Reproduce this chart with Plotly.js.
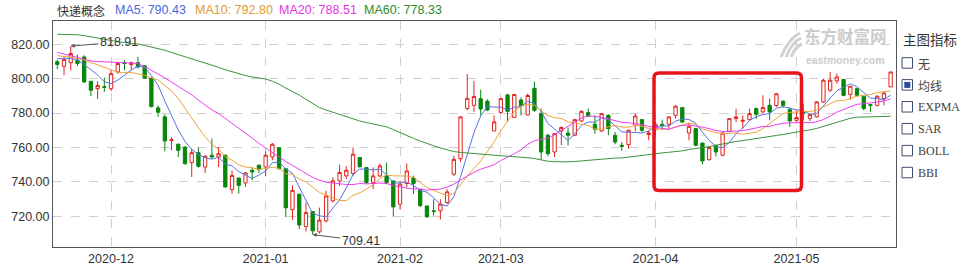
<!DOCTYPE html>
<html><head><meta charset="utf-8">
<script src="https://cdn.plot.ly/plotly-3.0.1.min.js"></script>
<style>html,body{margin:0;padding:0;background:#fff}#chart{width:961px;height:268px}</style>
</head><body><div id="chart"></div>
<script>
// ---------------- data ----------------
const chartTitle = '快递概念';
const maLabels = ['MA5: 790.43', 'MA10: 792.80', 'MA20: 788.51', 'MA60: 778.33'];

const dates = [
'2020-11-19','2020-11-20','2020-11-23','2020-11-24','2020-11-25','2020-11-26','2020-11-27','2020-11-30',
'2020-12-01','2020-12-02','2020-12-03','2020-12-04','2020-12-07','2020-12-08','2020-12-09','2020-12-10','2020-12-11','2020-12-14','2020-12-15','2020-12-16','2020-12-17','2020-12-18','2020-12-21','2020-12-22','2020-12-23','2020-12-24','2020-12-25','2020-12-28','2020-12-29','2020-12-30','2020-12-31',
'2021-01-04','2021-01-05','2021-01-06','2021-01-07','2021-01-08','2021-01-11','2021-01-12','2021-01-13','2021-01-14','2021-01-15','2021-01-18','2021-01-19','2021-01-20','2021-01-21','2021-01-22','2021-01-25','2021-01-26','2021-01-27','2021-01-28','2021-01-29',
'2021-02-01','2021-02-02','2021-02-03','2021-02-04','2021-02-05','2021-02-08','2021-02-09','2021-02-10','2021-02-18','2021-02-19','2021-02-22','2021-02-23','2021-02-24','2021-02-25','2021-02-26',
'2021-03-01','2021-03-02','2021-03-03','2021-03-04','2021-03-05','2021-03-08','2021-03-09','2021-03-10','2021-03-11','2021-03-12','2021-03-15','2021-03-16','2021-03-17','2021-03-18','2021-03-19','2021-03-22','2021-03-23','2021-03-24','2021-03-25','2021-03-26','2021-03-29','2021-03-30','2021-03-31',
'2021-04-01','2021-04-02','2021-04-06','2021-04-07','2021-04-08','2021-04-09','2021-04-12','2021-04-13','2021-04-14','2021-04-15','2021-04-16','2021-04-19','2021-04-20','2021-04-21','2021-04-22','2021-04-23','2021-04-26','2021-04-27','2021-04-28','2021-04-29','2021-04-30',
'2021-05-06','2021-05-07','2021-05-10','2021-05-11','2021-05-12','2021-05-13','2021-05-14','2021-05-17','2021-05-18','2021-05-19','2021-05-20','2021-05-21','2021-05-24','2021-05-25','2021-05-26'
];

const open = [
809.8,807.2,809.3,810.7,812.6,798.5,794.2,795.3,
794.2,803.9,809.2,808.2,809.3,807.5,800.3,783.0,777.8,764.0,761.9,760.3,751.2,757.0,748.7,755.5,754.5,755.5,735.5,742.3,739.4,746.7,749.7,
748.7,754.5,759.9,747.7,723.9,732.9,714.1,722.8,711.0,717.4,729.0,740.6,743.5,744.9,754.2,748.4,739.7,743.5,743.5,740.6,
727.1,739.1,742.3,735.5,726.0,723.2,723.2,728.0,744.5,753.5,782.7,784.5,788.4,786.9,769.6,
780.3,790.5,777.5,787.6,778.9,794.4,779.7,767.1,757.4,769.6,768.4,767.1,775.4,780.3,773.5,769.6,778.7,767.1,761.3,761.7,772.9,776.2,767.5,
770.4,773.5,773.5,778.7,783.2,768.4,771.0,762.6,752.9,761.3,755.5,769.4,776.8,775.2,776.2,782.6,780.7,784.5,784.4,786.9,782.0,
775.8,780.7,776.8,777.8,786.5,793.3,798.7,799.5,790.9,794.2,789.8,784.9,784.5,788.4,795.2
];
const high = [
811.0,813.0,818.91,814.0,813.6,798.5,798.5,800.6,
804.9,809.2,810.7,810.0,812.6,808.0,800.8,784.5,779.3,766.0,762.2,760.5,759.3,760.0,755.5,765.2,760.3,756.0,746.7,742.4,745.8,748.7,750.2,
757.8,762.6,760.0,747.7,738.0,732.9,728.0,722.8,725.1,734.8,742.6,750.0,749.2,760.0,754.2,748.4,748.4,750.7,751.3,740.6,
740.6,750.7,743.6,735.8,726.1,730.0,730.0,735.8,755.2,778.1,802.7,798.7,793.6,788.0,778.7,
789.0,791.3,790.9,789.0,791.5,798.3,782.6,768.0,768.4,772.3,771.6,776.6,781.6,782.6,778.7,780.1,779.3,769.0,763.2,770.4,779.7,776.2,770.0,
774.8,776.2,777.8,784.5,783.2,774.3,771.0,762.6,760.7,761.3,769.0,776.8,782.6,778.7,782.6,783.2,790.3,788.4,791.7,787.4,783.2,
781.6,785.5,779.7,787.0,800.0,803.9,803.0,799.5,795.6,794.2,789.8,785.1,790.4,792.3,803.9
];
const low = [
805.5,802.0,804.9,807.4,797.5,789.8,788.2,792.3,
792.7,803.0,804.9,804.9,805.9,800.0,783.3,777.8,757.8,758.4,754.5,750.2,742.9,748.3,745.2,753.5,748.7,736.7,733.2,733.2,737.1,741.0,745.2,
743.3,752.6,747.1,719.6,718.0,712.5,711.2,709.41,710.0,716.4,728.0,737.7,741.6,743.5,748.4,738.7,735.8,742.9,738.7,719.7,
724.1,736.8,733.0,725.5,719.3,720.3,718.2,727.1,743.5,751.6,781.6,780.7,778.7,781.2,769.6,
779.7,774.8,777.4,778.7,778.7,780.7,752.9,754.9,754.5,761.3,761.3,766.5,774.8,777.7,768.0,769.0,767.1,761.9,758.0,759.3,769.4,769.0,764.2,
767.1,770.0,771.0,776.8,774.2,764.2,760.7,750.2,752.5,754.9,754.9,769.0,774.8,771.0,775.8,776.6,780.1,775.8,783.6,783.2,772.0,
774.8,775.8,775.4,777.4,785.9,792.3,797.1,789.7,787.8,789.7,781.6,780.7,783.9,784.5,795.2
];
const close = [
808.3,811.1,814.6,808.8,798.1,793.3,796.0,795.0,
802.9,808.8,808.8,809.3,806.8,800.3,783.8,780.5,763.8,764.5,758.4,750.6,757.0,749.1,754.9,754.5,756.4,737.1,743.8,738.0,745.2,745.8,747.3,
755.5,761.9,747.7,725.0,735.1,715.0,722.2,711.6,717.8,731.9,740.6,745.5,746.8,756.1,748.8,739.7,743.5,749.3,739.7,725.5,
738.7,746.4,739.1,726.2,719.7,722.8,727.1,734.2,753.1,777.8,788.6,789.6,782.4,781.8,774.9,
788.4,781.0,790.8,784.2,790.2,781.6,757.4,756.4,768.1,771.6,767.1,776.2,781.0,778.3,770.6,779.7,771.0,763.2,760.7,770.0,778.3,770.0,768.5,
773.5,772.7,777.8,784.0,774.8,772.3,761.3,752.2,760.0,757.4,768.4,776.8,777.8,775.8,779.7,779.3,783.2,780.7,791.2,784.5,775.4,
777.4,779.7,779.1,786.5,799.1,799.1,801.0,790.3,795.6,790.3,782.6,784.5,789.8,791.7,803.9
];

// moving-average values for the first days (before enough closes exist in view)
const ma5Head  = [811.8,811.5,811.8,810.8];
const ma10Head = [813.4,813.0,812.5,811.8,810.8,809.5,808.0,806.5,805.2];
const ma20Head = [815.3,814.3,813.2,812.0,811.0,810.3,810.0,809.8,809.6,809.4,809.2,809.0,808.8,807.0,805.0,802.8,800.5,798.0,795.5];
const ma60Head = [825.8,825.8,825.7,825.5,825.0,824.3,823.2,822.5,822.0,821.5,821.0,820.7,820.1,819.3,818.5,817.5,816.5,815.2,814.0,812.8,
811.7,810.6,809.3,808.0,806.6,805.2,804.0,802.8,801.8,801.0,800.4,799.8,798.5,796.8,794.5,792.6,790.5,788.0,785.5,783.2,
781.8,780.5,779.2,777.8,776.5,775.4,774.5,773.6,772.8,772.0,770.4,768.6,767.0,765.3,763.8,762.3,761.0,759.8,758.6];

const monthTicks  = ['2020-12-01','2021-01-04','2021-02-01','2021-03-01','2021-04-01','2021-05-06'];
const monthLabels = ['2020-12','2021-01','2021-02','2021-03','2021-04','2021-05'];
const yTicks = [720, 740, 760, 780, 800, 820];

const panelTitle = '主图指标';
const indicators = ['无','均线','EXPMA','SAR','BOLL','BBI'];
const checkedIndicator = '均线';
const watermark = ['东方财富网', 'eastmoney.com'];

// ---------------- styles ----------------
const UP = '#e2231a', DOWN = '#08860a';
const maColors = ['#5574e4', '#eda43a', '#f03cf0', '#3a953a'];
const maTextColors = ['#4a68dc', '#e29a2e', '#e632e6', '#2e8a2e'];

function movingAverage(n, head) {
  return close.map((c, i) => {
    if (i < n - 1) return head[i];
    let s = 0;
    for (let k = i - n + 1; k <= i; k++) s += close[k];
    return s / n;
  });
}
const maSeries = [movingAverage(5, ma5Head), movingAverage(10, ma10Head), movingAverage(20, ma20Head), movingAverage(60, ma60Head)];

// ---------------- geometry helpers ----------------
const W = 961, H = 268, ML = 53, MR = 65, MT = 21, MB = 21;
const PW = W - ML - MR, PH = H - MT - MB;
const px = x => (x - ML) / PW;
const py = y => 1 - (y - MT) / PH;

const traces = [{
  type: 'candlestick', x: dates, open: open, high: high, low: low, close: close,
  increasing: {line: {color: UP, width: 1}, fillcolor: '#ffffff'},
  decreasing: {line: {color: DOWN, width: 1}, fillcolor: DOWN},
  whiskerwidth: 0, hoverinfo: 'skip', showlegend: false
}];
maSeries.forEach((s, k) => traces.push({
  type: 'scatter', mode: 'lines', x: dates, y: s,
  line: {color: maColors[k], width: 1}, hoverinfo: 'skip', showlegend: false
}));

// extremes
let hi = 0, lo = 0;
high.forEach((v, i) => { if (v > high[hi]) hi = i; });
low.forEach((v, i) => { if (v < low[lo]) lo = i; });

const FONT = 'Liberation Sans, Arial, sans-serif';
const CJK = 'Noto Sans CJK SC, sans-serif';
const annotations = [];
const shapes = [];

// header
annotations.push({xref: 'paper', yref: 'paper', x: px(55), y: py(10), xanchor: 'left', yanchor: 'middle',
  text: chartTitle, showarrow: false, font: {family: CJK, size: 12, color: '#333'}});
const maX = [113, 193, 277, 361.5];
maLabels.forEach((t, k) => annotations.push({xref: 'paper', yref: 'paper', x: px(maX[k]), y: py(10),
  xanchor: 'left', yanchor: 'middle', text: t, showarrow: false, font: {family: FONT, size: 12.5, color: maTextColors[k]}}));

// extreme labels
annotations.push({x: dates[hi], y: high[hi], text: high[hi].toFixed(2), showarrow: true, ax: 48, ay: -4,
  arrowhead: 2, arrowsize: 0.8, arrowwidth: 1, arrowcolor: '#555', standoff: 0,
  font: {family: FONT, size: 12.5, color: '#333'}});
annotations.push({x: dates[lo], y: low[lo], text: low[lo].toFixed(2), showarrow: true, ax: 48, ay: 6,
  arrowhead: 2, arrowsize: 0.8, arrowwidth: 1, arrowcolor: '#555', standoff: 0,
  font: {family: FONT, size: 12.5, color: '#333'}});

// watermark (one text block, two lines)
annotations.push({xref: 'paper', yref: 'paper', x: px(845), y: py(45), xanchor: 'center', yanchor: 'middle',
  text: '<b>' + watermark[0] + '</b><br><span style="font-size:10.5px;font-family:Liberation Sans, Arial, sans-serif"><b>' + watermark[1] + '</b></span>',
  showarrow: false, align: 'center', font: {family: CJK, size: 16.5, color: '#cccccc'}});
// logo swooshes
[[781, 57, 789, 38, 800, 33], [786, 57, 792, 42, 801, 38], [791, 57, 795, 47, 802, 44]].forEach(c => shapes.push({
  type: 'path', xref: 'paper', yref: 'paper',
  path: `M ${px(c[0])} ${py(c[1])} Q ${px(c[2])} ${py(c[3])} ${px(c[4])} ${py(c[5])}`,
  line: {color: '#d2d2d2', width: 3}
}));

// highlight box with rounded corners
(function () {
  const x0 = px(654), x1 = px(801.5), y0 = py(73), y1 = py(190.5);
  const rx = 5 / PW, ry = 5 / PH;
  const p = `M ${x0 + rx} ${y0} L ${x1 - rx} ${y0} Q ${x1} ${y0} ${x1} ${y0 - ry} L ${x1} ${y1 + ry} Q ${x1} ${y1} ${x1 - rx} ${y1} ` +
            `L ${x0 + rx} ${y1} Q ${x0} ${y1} ${x0} ${y1 + ry} L ${x0} ${y0 - ry} Q ${x0} ${y0} ${x0 + rx} ${y0} Z`;
  shapes.push({type: 'path', xref: 'paper', yref: 'paper', path: p, line: {color: '#e8141c', width: 3.5}, layer: 'above'});
})();

// right panel
annotations.push({xref: 'paper', yref: 'paper', x: px(901), y: py(39), xanchor: 'left', yanchor: 'middle',
  text: panelTitle, showarrow: false, font: {family: CJK, size: 13.5, color: '#333'}});
indicators.forEach((t, k) => {
  const top = 57.7 + 21.92 * k;
  shapes.push({type: 'rect', xref: 'paper', yref: 'paper', x0: px(902), x1: px(912.5), y0: py(top), y1: py(top + 10.5),
    line: {color: '#3d4d6e', width: 1}, fillcolor: 'rgba(0,0,0,0)'});
  if (t === checkedIndicator) {
    shapes.push({type: 'rect', xref: 'paper', yref: 'paper', x0: px(904.3), x1: px(910.3), y0: py(top + 2.3), y1: py(top + 8.3),
      line: {width: 0}, fillcolor: '#2b4a9c'});
  }
  const isLatin = /^[A-Z]+$/.test(t);
  annotations.push({xref: 'paper', yref: 'paper', x: px(915.5), y: py(top + 5.5), xanchor: 'left', yanchor: 'middle',
    text: t, showarrow: false,
    font: {family: isLatin ? 'Liberation Serif, Times New Roman, serif' : CJK, size: 12, color: '#444'}});
});

const layout = {
  width: W, height: H,
  margin: {l: ML, r: MR, t: MT, b: MB, pad: 0},
  paper_bgcolor: '#ffffff', plot_bgcolor: '#ffffff',
  showlegend: false, dragmode: false,
  font: {family: FONT, size: 12, color: '#333'},
  xaxis: {
    type: 'category', range: [-0.64, dates.length - 0.2],
    tickvals: monthTicks, ticktext: monthLabels, ticks: '',
    showgrid: true, gridcolor: '#cfcfcf', griddash: 'dash', gridwidth: 1,
    showline: true, mirror: true, linecolor: '#555', linewidth: 1,
    tickfont: {family: FONT, size: 12.5, color: '#333'},
    rangeslider: {visible: false}, fixedrange: true
  },
  yaxis: {
    range: [702.2, 833.5], tickvals: yTicks, tickformat: '.2f', ticks: '',
    showgrid: true, gridcolor: '#cfcfcf', griddash: 'dash', gridwidth: 1, zeroline: false,
    showline: true, mirror: true, linecolor: '#555', linewidth: 1,
    tickfont: {family: FONT, size: 12.5, color: '#333'}, fixedrange: true
  },
  annotations: annotations, shapes: shapes
};

Plotly.newPlot('chart', traces, layout, {displayModeBar: false, staticPlot: true});
</script>
</body></html>
